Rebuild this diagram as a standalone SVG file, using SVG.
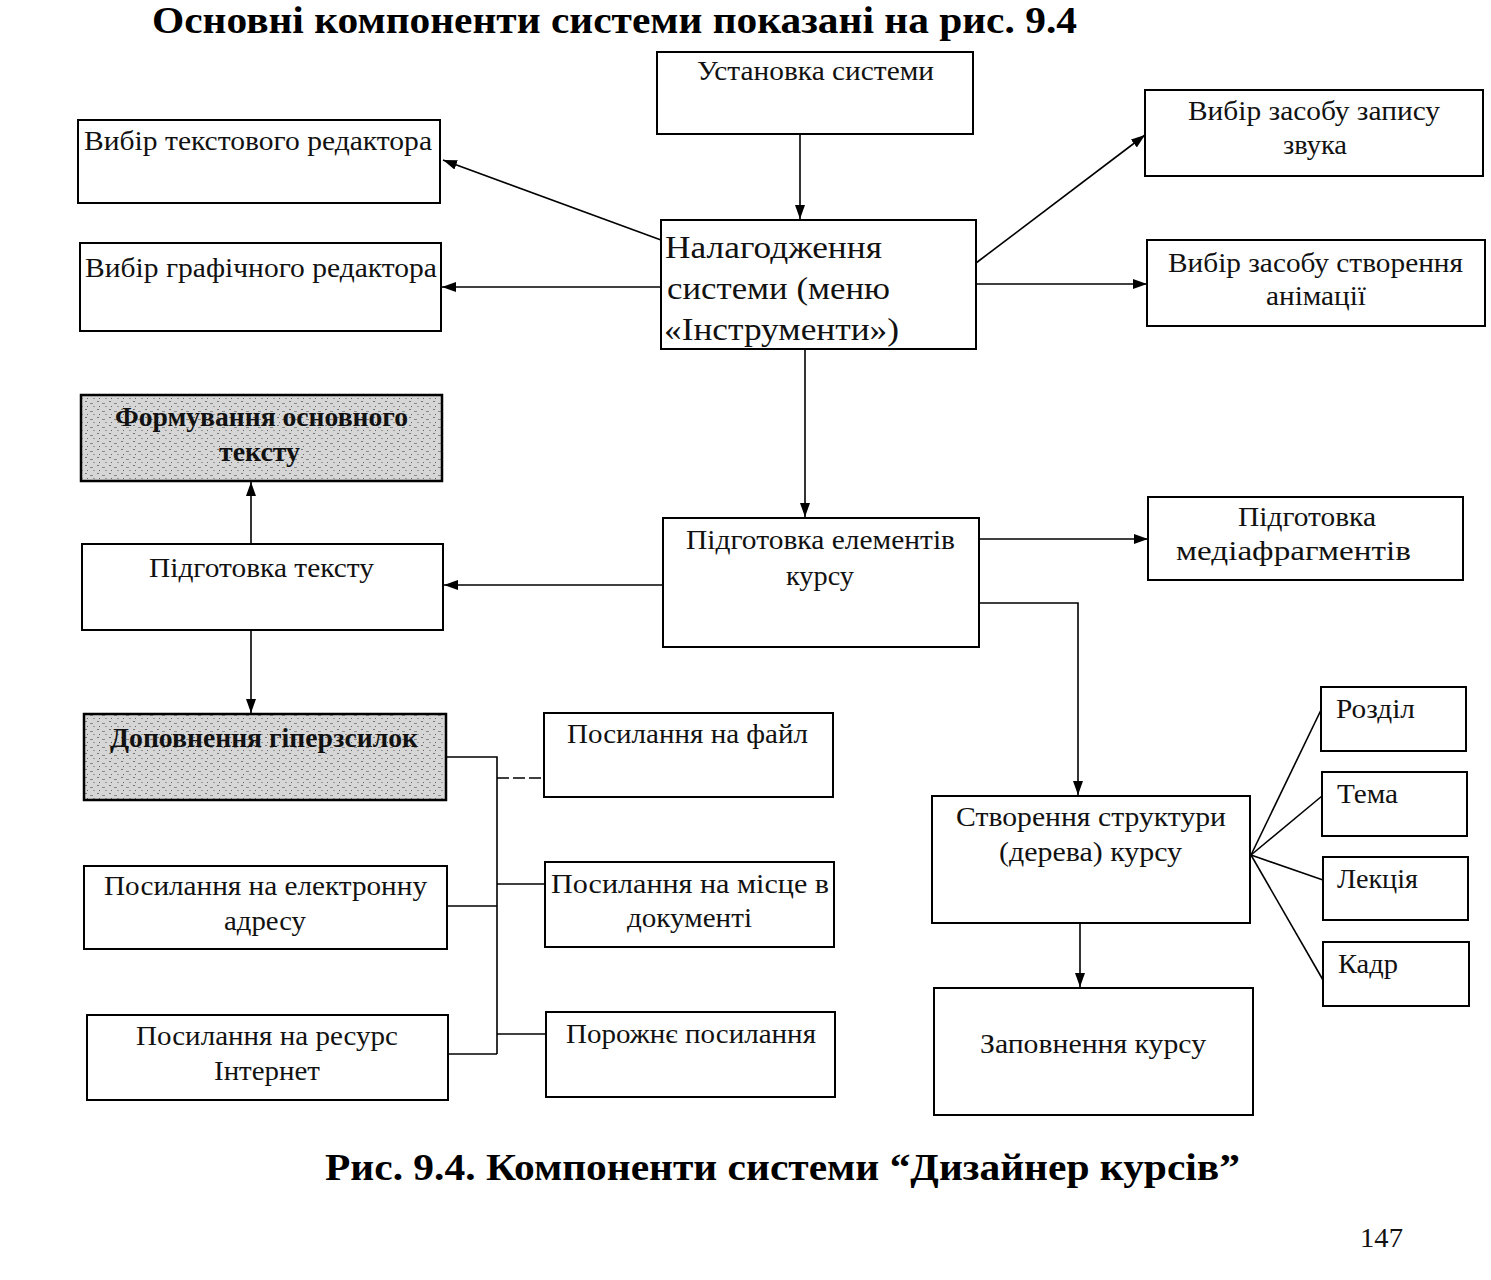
<svg xmlns="http://www.w3.org/2000/svg" width="1491" height="1280" viewBox="0 0 1491 1280">
<style>
.b{fill:#fff;stroke:#000;stroke-width:2}
.g{fill:url(#stip);stroke:#000;stroke-width:2.5}
text{font-family:"Liberation Serif","DejaVu Serif",serif;fill:#111}
.t{font-size:27px}
.tb{font-size:27px;font-weight:bold}
.big{font-size:31px}
.h{font-size:38px;font-weight:bold;fill:#000}
.c{fill:none;stroke:#000;stroke-width:1.6}
.a{fill:none;stroke:#000;stroke-width:1.6;marker-end:url(#ar)}
</style>
<defs>
<marker id="ar" viewBox="0 0 14 10" refX="14" refY="5" markerWidth="14" markerHeight="10" markerUnits="userSpaceOnUse" orient="auto">
<path d="M0,0 L14,5 L0,10 Z" fill="#000"/>
</marker>
<pattern id="stip" width="12" height="8" patternUnits="userSpaceOnUse">
<rect width="12" height="8" fill="#d6d6d6"/>
<rect x="1" y="1" width="2" height="1" fill="#777"/>
<rect x="6" y="3" width="3" height="1" fill="#888"/>
<rect x="3" y="6" width="1" height="1" fill="#666"/>
<rect x="9" y="6" width="2" height="1" fill="#999"/>
</pattern>
</defs>

<text class="h" x="152" y="33" textLength="925" lengthAdjust="spacingAndGlyphs">Основні компоненти системи показані на рис. 9.4</text>

<g id="connectors">
<path class="a" d="M800,134 V219"/>
<path class="a" d="M661,240 L443,160"/>
<path class="a" d="M661,287 H442"/>
<path class="a" d="M976,263 L1145,135"/>
<path class="a" d="M976,284 H1147"/>
<path class="a" d="M805,349 V517"/>
<path class="a" d="M663,585 H444"/>
<path class="a" d="M979,539 H1148"/>
<path class="a" d="M979,603 H1078 V795"/>
<path class="a" d="M251,544 V482"/>
<path class="a" d="M251,630 V713"/>
<path class="c" d="M446,757 H497 V1054"/>
<path class="c" d="M497,778 H544" stroke-dasharray="12,4"/>
<path class="c" d="M497,884 H545"/>
<path class="c" d="M497,1034 H546"/>
<path class="c" d="M447,906 H497"/>
<path class="c" d="M448,1054 H497"/>
<path class="a" d="M1080,923 V987"/>
<path class="c" d="M1251,855 L1321,710"/>
<path class="c" d="M1251,855 L1322,796"/>
<path class="c" d="M1251,855 L1323,880"/>
<path class="c" d="M1251,855 L1323,980"/>
</g>

<g id="n1"><rect class="b" x="657" y="52" width="316" height="82"/><text class="t" x="697" y="80" textLength="237" lengthAdjust="spacingAndGlyphs">Установка системи</text></g>
<g id="n2"><rect class="b" x="78" y="120" width="362" height="83"/><text class="t" x="84" y="150" textLength="348" lengthAdjust="spacingAndGlyphs">Вибір текстового редактора</text></g>
<g id="n3"><rect class="b" x="80" y="243" width="361" height="88"/><text class="t" x="85" y="277" textLength="352" lengthAdjust="spacingAndGlyphs">Вибір графічного редактора</text></g>
<g id="n4"><rect class="b" x="661" y="220" width="315" height="129"/>
<text class="big" x="665" y="258" textLength="217" lengthAdjust="spacingAndGlyphs">Налагодження</text>
<text class="big" x="667" y="299" textLength="223" lengthAdjust="spacingAndGlyphs">системи (меню</text>
<text class="big" x="664" y="340" textLength="235" lengthAdjust="spacingAndGlyphs">«Інструменти»)</text></g>
<g id="n5"><rect class="b" x="1145" y="90" width="338" height="86"/>
<text class="t" x="1188" y="120" textLength="252" lengthAdjust="spacingAndGlyphs">Вибір засобу запису</text>
<text class="t" x="1283" y="154" textLength="64" lengthAdjust="spacingAndGlyphs">звука</text></g>
<g id="n6"><rect class="b" x="1147" y="240" width="338" height="86"/>
<text class="t" x="1168" y="272" textLength="295" lengthAdjust="spacingAndGlyphs">Вибір засобу створення</text>
<text class="t" x="1266" y="305" textLength="100" lengthAdjust="spacingAndGlyphs">анімації</text></g>
<g id="n7"><rect class="g" x="81" y="395" width="361" height="86"/>
<text class="tb" x="115" y="426" textLength="293" lengthAdjust="spacingAndGlyphs">Формування основного</text>
<text class="tb" x="219" y="461" textLength="81" lengthAdjust="spacingAndGlyphs">тексту</text></g>
<g id="n8"><rect class="b" x="82" y="544" width="361" height="86"/><text class="t" x="149" y="577" textLength="225" lengthAdjust="spacingAndGlyphs">Підготовка тексту</text></g>
<g id="n9"><rect class="b" x="663" y="518" width="316" height="129"/>
<text class="t" x="686" y="549" textLength="269" lengthAdjust="spacingAndGlyphs">Підготовка елементів</text>
<text class="t" x="786" y="585" textLength="68" lengthAdjust="spacingAndGlyphs">курсу</text></g>
<g id="n10"><rect class="b" x="1148" y="497" width="315" height="83"/>
<text class="t" x="1238" y="526" textLength="138" lengthAdjust="spacingAndGlyphs">Підготовка</text>
<text class="t" x="1176" y="560" textLength="235" lengthAdjust="spacingAndGlyphs">медіафрагментів</text></g>
<g id="n11"><rect class="g" x="84" y="714" width="362" height="86"/><text class="tb" x="110" y="747" textLength="308" lengthAdjust="spacingAndGlyphs">Доповнення гіперзсилок</text></g>
<g id="n12"><rect class="b" x="544" y="713" width="289" height="84"/><text class="t" x="567" y="743" textLength="241" lengthAdjust="spacingAndGlyphs">Посилання на файл</text></g>
<g id="n13"><rect class="b" x="84" y="866" width="363" height="83"/>
<text class="t" x="104" y="895" textLength="323" lengthAdjust="spacingAndGlyphs">Посилання на електронну</text>
<text class="t" x="224" y="930" textLength="82" lengthAdjust="spacingAndGlyphs">адресу</text></g>
<g id="n14"><rect class="b" x="545" y="862" width="289" height="85"/>
<text class="t" x="551" y="893" textLength="278" lengthAdjust="spacingAndGlyphs">Посилання на  місце в</text>
<text class="t" x="627" y="927" textLength="125" lengthAdjust="spacingAndGlyphs">документі</text></g>
<g id="n15"><rect class="b" x="87" y="1015" width="361" height="85"/>
<text class="t" x="136" y="1045" textLength="262" lengthAdjust="spacingAndGlyphs">Посилання на ресурс</text>
<text class="t" x="214" y="1080" textLength="106" lengthAdjust="spacingAndGlyphs">Інтернет</text></g>
<g id="n16"><rect class="b" x="546" y="1012" width="289" height="85"/><text class="t" x="566" y="1043" textLength="250" lengthAdjust="spacingAndGlyphs">Порожнє посилання</text></g>
<g id="n17"><rect class="b" x="932" y="796" width="318" height="127"/>
<text class="t" x="956" y="826" textLength="270" lengthAdjust="spacingAndGlyphs">Створення структури</text>
<text class="t" x="999" y="861" textLength="183" lengthAdjust="spacingAndGlyphs">(дерева) курсу</text></g>
<g id="n18"><rect class="b" x="934" y="988" width="319" height="127"/><text class="t" x="980" y="1053" textLength="226" lengthAdjust="spacingAndGlyphs">Заповнення курсу</text></g>
<g id="n19"><rect class="b" x="1321" y="687" width="145" height="64"/><text class="t" x="1336" y="718" textLength="79" lengthAdjust="spacingAndGlyphs">Розділ</text></g>
<g id="n20"><rect class="b" x="1322" y="772" width="145" height="64"/><text class="t" x="1337" y="803" textLength="61" lengthAdjust="spacingAndGlyphs">Тема</text></g>
<g id="n21"><rect class="b" x="1323" y="857" width="145" height="63"/><text class="t" x="1337" y="888" textLength="81" lengthAdjust="spacingAndGlyphs">Лекція</text></g>
<g id="n22"><rect class="b" x="1323" y="942" width="146" height="64"/><text class="t" x="1338" y="973" textLength="60" lengthAdjust="spacingAndGlyphs">Кадр</text></g>

<text class="h" x="325" y="1180" textLength="915" lengthAdjust="spacingAndGlyphs">Рис. 9.4. Компоненти системи “Дизайнер курсів”</text>
<text class="t" x="1360" y="1247" textLength="43" lengthAdjust="spacingAndGlyphs">147</text>
</svg>
